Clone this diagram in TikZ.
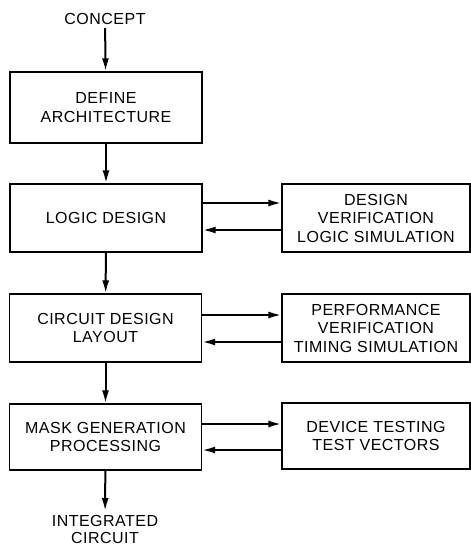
\documentclass[tikz,border=0pt]{standalone}
\usepackage{fontspec}
\setmainfont{Liberation Sans}
\newfontfamily\flowfont[LetterSpace=3]{Liberation Sans}
\usetikzlibrary{arrows.meta}

\begin{document}
\begin{tikzpicture}[x=1pt,y=-1pt,
  stagebox/.style={rectangle,draw,line width=1.3pt,minimum width=192pt,minimum height=68pt,inner sep=0pt,align=center,font=\flowfont\fontsize{16}{18.5}\selectfont},
  checkbox/.style={stagebox,minimum width=188pt},
  endtext/.style={align=center,font=\flowfont\fontsize{16}{17}\selectfont},
  flow/.style={line width=2pt,-{Latex[length=13pt,width=7pt]}}]
\useasboundingbox (0,0) rectangle (471,547);
\node[endtext] (concept) at (105,19) {CONCEPT};
\node[stagebox,minimum height=71pt] (arch) at (106,107.5) {DEFINE\\ARCHITECTURE};
\node[stagebox] (logic) at (106,218) {LOGIC DESIGN};
\node[stagebox] (circuit) at (105.5,328) {CIRCUIT DESIGN\\LAYOUT};
\node[stagebox,minimum height=66pt] (mask) at (105.5,437) {MASK GENERATION\\PROCESSING};
\node[endtext,anchor=north,inner sep=0pt] (ic) at (105,515) {INTEGRATED\\CIRCUIT};
\node[checkbox] (verif) at (376,218) {DESIGN\\VERIFICATION\\LOGIC SIMULATION};
\node[checkbox] (timing) at (376,328) {PERFORMANCE\\VERIFICATION\\TIMING SIMULATION};
\node[checkbox,minimum height=66pt] (test) at (376,436) {DEVICE TESTING\\TEST VECTORS};
% main flow
\draw[flow] (concept) -- (arch);
\draw[flow] (arch) -- (logic);
\draw[flow] (logic) -- (circuit);
\draw[flow] (circuit) -- (mask);
\draw[flow,shorten >=4pt] (mask) -- (ic);
% checks
\draw[flow] ([yshift=15pt]logic.east) -- ([yshift=15pt]logic.east -| verif.west);
\draw[flow] ([yshift=-12pt]logic.east -| verif.west) -- ([yshift=-12pt]logic.east);
\draw[flow] ([yshift=13pt]circuit.east) -- ([yshift=13pt]circuit.east -| timing.west);
\draw[flow] ([yshift=-14pt]circuit.east -| timing.west) -- ([yshift=-14pt]circuit.east);
\draw[flow] ([yshift=13pt]mask.east) -- ([yshift=13pt]mask.east -| test.west);
\draw[flow] ([yshift=-13pt]mask.east -| test.west) -- ([yshift=-13pt]mask.east);
\end{tikzpicture}
\end{document}
